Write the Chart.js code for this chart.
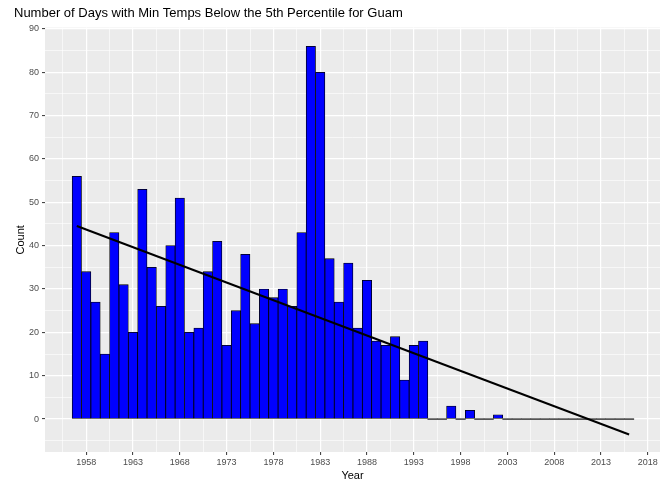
<!DOCTYPE html>
<html>
<head>
<meta charset="utf-8">
<script src="https://cdn.jsdelivr.net/npm/chart.js@4"></script>
<style>
  html, body { margin: 0; padding: 0; background: #fff; }
  #wrap { width: 661px; height: 483px; }
</style>
</head>
<body>
<div id="wrap"><canvas id="chart"></canvas></div>
<script>
const years = [
  1957, 1958, 1959, 1960, 1961, 1962, 1963, 1964, 1965, 1966,
  1967, 1968, 1969, 1970, 1971, 1972, 1973, 1974, 1975, 1976,
  1977, 1978, 1979, 1980, 1981, 1982, 1983, 1984, 1985, 1986,
  1987, 1988, 1989, 1990, 1991, 1992, 1993, 1994, 1995, 1996,
  1997, 1998, 1999, 2000, 2001, 2002, 2003, 2004, 2005, 2006,
  2007, 2008, 2009, 2010, 2011, 2012, 2013, 2014, 2015, 2016
];
const counts = [
  56, 34, 27, 15, 43, 31, 20, 53, 35, 26,
  40, 51, 20, 21, 34, 41, 17, 25, 38, 22,
  30, 28, 30, 26, 43, 86, 80, 37, 27, 36,
  21, 32, 18, 17, 19, 9, 17, 18, 0, 0,
  3, 0, 2, 0, 0, 1, 0, 0, 0, 0,
  0, 0, 0, 0, 0, 0, 0, 0, 0, 0
];
const xTickLabels = [1958, 1963, 1968, 1973, 1978, 1983, 1988, 1993, 1998, 2003, 2008, 2013, 2018];
const yTickLabels = [0, 10, 20, 30, 40, 50, 60, 70, 80, 90];
const titleText = 'Number of Days with Min Temps Below the 5th Percentile for Guam';

// least-squares trend over all years (as geom_smooth(method = "lm"))
const n = years.length;
const mx = years.reduce((s, v) => s + v, 0) / n;
const my = counts.reduce((s, v) => s + v, 0) / n;
let sxy = 0, sxx = 0;
years.forEach((x, i) => { sxy += (x - mx) * (counts[i] - my); sxx += (x - mx) * (x - mx); });
const slope = sxy / sxx;
const trend = [years[0], years[n - 1]].map(x => ({ x: x, y: my + slope * (x - mx) }));

// major ticks with a minor tick halfway between
const xAll = [];
xTickLabels.forEach(v => { xAll.push(v - 2.5, v); });
const yAll = [-5];
yTickLabels.forEach(v => { yAll.push(v, v + 5); });

Chart.defaults.font.family = '"Liberation Sans", Arial, sans-serif';

const panelBg = {
  id: 'panelBg',
  beforeDraw(chart) {
    const { ctx, chartArea: a } = chart;
    ctx.save();
    ctx.fillStyle = '#EBEBEB';
    ctx.fillRect(a.left, a.top, a.right - a.left, a.bottom - a.top);
    ctx.restore();
  }
};

const isMajorX = v => xTickLabels.includes(v);
const isMajorY = v => yTickLabels.includes(v);

new Chart(document.getElementById('chart'), {
  data: {
    datasets: [
      {
        type: 'line',
        data: trend,
        borderColor: '#000',
        borderWidth: 2,
        pointRadius: 0,
        order: 0
      },
      {
        type: 'bar',
        data: years.map((y, i) => ({ x: y, y: counts[i] })),
        backgroundColor: counts.map(v => v === 0 ? '#555' : '#0000FF'),
        borderColor: '#000',
        borderWidth: counts.map(v => v === 0 ? 0 : 0.8),
        borderSkipped: false,
        minBarLength: 1,
        barPercentage: 1,
        categoryPercentage: 1,
        order: 1
      }
    ]
  },
  options: {
    responsive: true,
    maintainAspectRatio: false,
    animation: false,
    layout: { padding: { left: 14, right: 1, top: 0, bottom: 0 } },
    plugins: {
      legend: { display: false },
      tooltip: { enabled: false },
      title: {
        display: true,
        text: titleText,
        align: 'start',
        color: '#000',
        font: { size: 13, weight: 'normal' },
        padding: { top: 6, bottom: 6 }
      }
    },
    scales: {
      x: {
        type: 'linear',
        min: 1953.6,
        max: 2019.3,
        offset: false,
        afterBuildTicks(scale) { scale.ticks = xAll.filter(v => v >= scale.min && v <= scale.max).map(v => ({ value: v })); },
        afterFit(scale) { scale.height = 31; },
        border: { display: false },
        grid: {
          offset: false,
          color: '#FFFFFF',
          lineWidth: c => isMajorX(c.tick && c.tick.value) ? 1.2 : 0.6,
          tickColor: c => isMajorX(c.tick && c.tick.value) ? '#333' : 'rgba(0,0,0,0)',
          tickLength: 3,
          tickWidth: 1
        },
        ticks: {
          autoSkip: false,
          maxRotation: 0,
          padding: 2,
          color: '#4D4D4D',
          font: { size: 9 },
          callback: v => isMajorX(v) ? String(v) : ''
        },
        title: { display: true, text: 'Year', color: '#000', font: { size: 11 }, padding: { top: 0, bottom: 0 } }
      },
      y: {
        type: 'linear',
        min: -7.6,
        max: 90.3,
        afterBuildTicks(scale) { scale.ticks = yAll.filter(v => v >= scale.min && v <= scale.max).map(v => ({ value: v })); },
        afterFit(scale) { scale.width = 31; },
        border: { display: false },
        grid: {
          color: '#FFFFFF',
          lineWidth: c => isMajorY(c.tick && c.tick.value) ? 1.2 : 0.6,
          tickColor: c => isMajorY(c.tick && c.tick.value) ? '#333' : 'rgba(0,0,0,0)',
          tickLength: 3,
          tickWidth: 1
        },
        ticks: {
          autoSkip: false,
          padding: 3,
          color: '#4D4D4D',
          font: { size: 9 },
          callback: v => isMajorY(v) ? String(v) : ''
        },
        title: { display: true, text: 'Count', color: '#000', font: { size: 11 }, padding: { top: 0, bottom: 0 } }
      }
    }
  },
  plugins: [panelBg]
});
</script>
</body>
</html>
